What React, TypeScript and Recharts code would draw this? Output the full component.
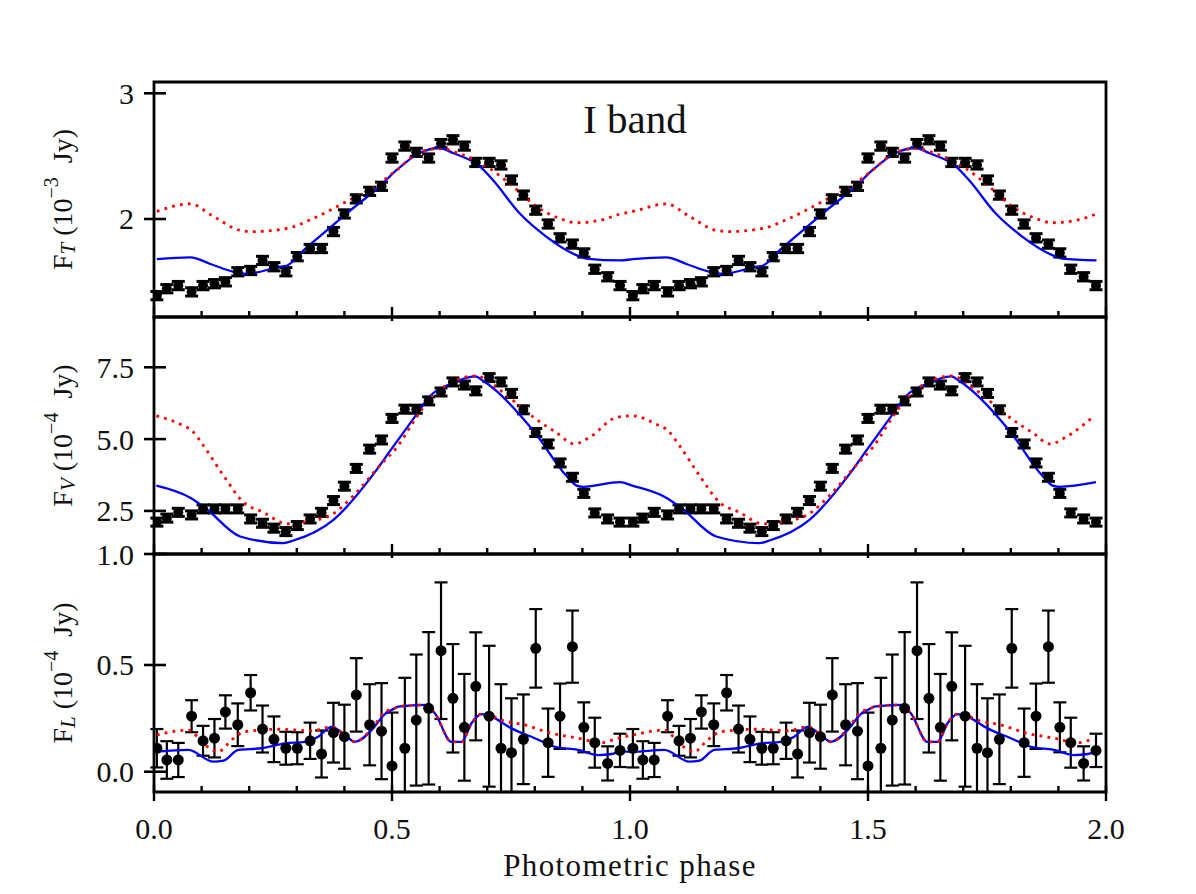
import React from "react";
import { ComposedChart, Line, Scatter, ErrorBar, XAxis, YAxis, ReferenceArea } from "recharts";

const W = 1196;
const H = 894;
const LEFT = 154;
const RIGHT = 1106;
const FONT = "'Liberation Serif', 'DejaVu Serif', serif";

// phases of the observed points (one cycle, repeated at +1)
const phases = [
  0.006, 0.027, 0.051, 0.079, 0.103, 0.127, 0.15, 0.176, 0.203, 0.228, 0.252, 0.277, 0.301, 0.328,
  0.352, 0.377, 0.4, 0.425, 0.453, 0.478, 0.5, 0.527, 0.551, 0.577, 0.603, 0.628, 0.652, 0.676,
  0.704, 0.729, 0.751, 0.776, 0.802, 0.828, 0.853, 0.879, 0.903, 0.926, 0.953, 0.979,
];

const fluxT = [
  1.39, 1.445, 1.47, 1.42, 1.47, 1.485, 1.5, 1.58, 1.59, 1.67, 1.62, 1.58, 1.7, 1.765, 1.765, 1.9,
  2.04, 2.16, 2.22, 2.26, 2.485, 2.58, 2.53, 2.485, 2.6, 2.63, 2.58, 2.45, 2.45, 2.43, 2.31, 2.19,
  2.07, 1.96, 1.85, 1.8, 1.73, 1.6, 1.54, 1.47,
];
const errT = 0.033;

const fluxV = [
  2.11, 2.25, 2.45, 2.36, 2.57, 2.57, 2.57, 2.57, 2.22, 2.07, 1.9, 1.78, 1.99, 2.22, 2.45, 2.86,
  3.36, 3.98, 4.65, 4.97, 5.72, 6.04, 6.04, 6.33, 6.64, 6.99, 6.88, 6.68, 7.14, 6.99, 6.59, 6.02,
  5.23, 4.83, 4.17, 3.67, 3.11, 2.43, 2.22, 2.11,
];
const errV = 0.14;

const fluxL = [
  0.11, 0.055, 0.055, 0.26, 0.145, 0.157, 0.28, 0.22, 0.37, 0.2, 0.152, 0.11, 0.11, 0.145, 0.083,
  0.183, 0.164, 0.36, 0.22, 0.19, 0.027, 0.11, 0.242, 0.297, 0.567, 0.344, 0.208, 0.4, 0.26, 0.11,
  0.089, 0.152, 0.578, 0.136, 0.26, 0.586, 0.208, 0.136, 0.039, 0.1,
];
const errL = [
  0.09, 0.088, 0.08, 0.075, 0.07, 0.09, 0.078, 0.1, 0.083, 0.11, 0.107, 0.077, 0.075, 0.085, 0.11,
  0.14, 0.15, 0.172, 0.19, 0.225, 0.25, 0.33, 0.307, 0.357, 0.32, 0.254, 0.25, 0.253, 0.33, 0.3,
  0.255, 0.21, 0.184, 0.16, 0.153, 0.169, 0.117, 0.117, 0.08, 0.078,
];

// model curves
const bluePhaseT = [0.006, 0.076, 0.12, 0.167, 0.195, 0.265, 0.28, 0.314, 0.36, 0.405, 0.474, 0.51, 0.558, 0.6, 0.628, 0.684, 0.712, 0.768, 0.824, 0.88, 0.908, 0.98];
const blueT = [1.68, 1.695, 1.64, 1.58, 1.565, 1.62, 1.63, 1.75, 1.9, 2.045, 2.26, 2.39, 2.525, 2.565, 2.525, 2.42, 2.31, 2.045, 1.86, 1.725, 1.685, 1.67];
const redPhaseT = [0.006, 0.076, 0.125, 0.181, 0.209, 0.279, 0.335, 0.405, 0.474, 0.51, 0.558, 0.6, 0.649, 0.698, 0.754, 0.803, 0.852, 0.887, 0.943, 0.98];
const redT = [2.06, 2.12, 2.02, 1.91, 1.9, 1.925, 2.005, 2.14, 2.285, 2.39, 2.53, 2.56, 2.51, 2.42, 2.26, 2.1, 2.005, 1.97, 1.995, 2.04];

const bluePhaseV = [0.005, 0.076, 0.108, 0.181, 0.272, 0.293, 0.377, 0.461, 0.496, 0.552, 0.58, 0.622, 0.675, 0.692, 0.8, 0.866, 0.888, 0.902, 0.979];
const blueV = [3.38, 2.96, 2.6, 1.61, 1.38, 1.47, 2.19, 3.78, 4.59, 5.87, 6.5, 6.91, 7.18, 7.02, 5.23, 3.73, 3.38, 3.34, 3.5];
const redPhaseV = [0.005, 0.055, 0.08, 0.104, 0.146, 0.188, 0.23, 0.279, 0.314, 0.37, 0.419, 0.474, 0.51, 0.551, 0.579, 0.628, 0.677, 0.719, 0.768, 0.803, 0.845, 0.883, 0.915, 0.971];
const redV = [5.81, 5.52, 5.29, 4.77, 3.73, 2.8, 2.45, 2.05, 2.11, 2.34, 3.03, 4.07, 4.71, 5.75, 6.39, 7.0, 7.2, 6.8, 6.16, 5.69, 5.23, 4.83, 5.06, 5.75];

const bluePhaseL = [0.006, 0.072, 0.125, 0.146, 0.177, 0.226, 0.275, 0.317, 0.345, 0.373, 0.401, 0.422, 0.457, 0.485, 0.506, 0.513, 0.569, 0.59, 0.625, 0.646, 0.667, 0.688, 0.709, 0.751, 0.8, 0.842, 0.891, 0.933, 0.962, 0.98];
const blueL = [0.094, 0.102, 0.047, 0.052, 0.102, 0.11, 0.133, 0.14, 0.164, 0.21, 0.172, 0.14, 0.195, 0.27, 0.297, 0.305, 0.313, 0.274, 0.14, 0.14, 0.227, 0.27, 0.258, 0.203, 0.157, 0.117, 0.102, 0.078, 0.083, 0.094];
const redPhaseL = [0.006, 0.072, 0.107, 0.135, 0.163, 0.191, 0.261, 0.331, 0.373, 0.401, 0.422, 0.457, 0.485, 0.506, 0.513, 0.569, 0.59, 0.625, 0.646, 0.667, 0.688, 0.709, 0.73, 0.779, 0.835, 0.891, 0.94, 0.975];
const redL = [0.172, 0.195, 0.125, 0.094, 0.149, 0.1875, 0.199, 0.192, 0.21, 0.172, 0.14, 0.2, 0.28, 0.297, 0.305, 0.313, 0.274, 0.14, 0.14, 0.227, 0.27, 0.262, 0.242, 0.219, 0.18, 0.157, 0.136, 0.157];

const xTicks = [0, 0.1, 0.2, 0.3, 0.4, 0.5, 0.6, 0.7, 0.8, 0.9, 1, 1.1, 1.2, 1.3, 1.4, 1.5, 1.6, 1.7, 1.8, 1.9, 2];
const xMajor = [0, 0.5, 1, 1.5, 2];
const xLabels = ["0.0", "0.5", "1.0", "1.5", "2.0"];

const yTicksT = [2, 3];
const yTicksV = [1, 2.5, 5, 7.5];
const yTicksL = [0, 0.5];

type Pt = { x: number; y: number; err?: [number, number] };

// two phase cycles; error bars are cut at the panel edges like the original plot
function twoCycles(xs: number[], ys: number[], errs?: number[] | number, dom?: [number, number]): Pt[] {
  const out: Pt[] = [];
  [0, 1].forEach((shift) => {
    xs.forEach((x, i) => {
      const p: Pt = { x: x + shift, y: ys[i] };
      if (errs !== undefined && dom) {
        const e = Array.isArray(errs) ? errs[i] : errs;
        p.err = [Math.min(e, ys[i] - dom[0]), Math.min(e, dom[1] - ys[i])];
      }
      out.push(p);
    });
  });
  return out;
}

const XTick = (props: any) => {
  const { x, y, payload, labels, majorIn, majorOut } = props;
  const v = payload.value;
  const mi = xMajor.findIndex((m) => Math.abs(m - v) < 1e-6);
  const major = mi >= 0;
  return (
    <g>
      <line x1={x} x2={x} y1={y - (major ? majorIn : 6)} y2={y + (major ? majorOut : 0)} stroke="#000" strokeWidth={2.4} />
      {labels && major && (
        <text x={x} y={y + 36} textAnchor="middle" dominantBaseline="central" fontFamily={FONT} fontSize={30} fill="#111">
          {xLabels[mi]}
        </text>
      )}
    </g>
  );
};

const YTick = (props: any) => {
  const { x, y, payload, fmt } = props;
  return (
    <g>
      <line x1={x - 10} x2={x + 12} y1={y} y2={y} stroke="#000" strokeWidth={2.6} />
      <text x={x - 20} y={y} textAnchor="end" dominantBaseline="central" fontFamily={FONT} fontSize={30} fill="#111">
        {fmt(payload.value)}
      </text>
    </g>
  );
};

const makeYLabel = (sub: string, exp: string) => (props: any) => {
  const vb = props.viewBox;
  const cx = LEFT - 92;
  const cy = vb.y + vb.height / 2;
  return (
    <text x={cx} y={cy} transform={`rotate(-90 ${cx} ${cy})`} textAnchor="middle" dominantBaseline="central" fontFamily={FONT} fontSize={28} fill="#111">
      F
      <tspan fontStyle="italic" fontSize={21} dy={6}>{sub}</tspan>
      <tspan dy={-6}>{"\u00a0(10"}</tspan>
      <tspan fontSize={20} dy={-11}>{"\u2212" + exp}</tspan>
      <tspan dy={11}>{"\u00a0\u00a0Jy)"}</tspan>
    </text>
  );
};

interface PanelProps {
  top: number;
  bottom: number;
  domain: [number, number];
  yTicks: number[];
  fmt: (v: number) => string;
  points: Pt[];
  blue: Pt[];
  red: Pt[];
  dotR: number;
  barWidth: number;
  cap: number;
  sub: string;
  exp: string;
  labels?: boolean;
  majorIn?: number;
  majorOut?: number;
}

function Panel({ top, bottom, domain, yTicks, fmt, points, blue, red, dotR, barWidth, cap, sub, exp, labels = false, majorIn = 10, majorOut = 4 }: PanelProps) {
  return (
    <div style={{ position: "absolute", left: 0, top: 0 }}>
      <ComposedChart width={W} height={H} margin={{ top, bottom: H - bottom - 1, left: LEFT - 1, right: W - RIGHT }}>
        <XAxis
          type="number"
          dataKey="x"
          domain={[0, 2]}
          ticks={xTicks}
          interval={0}
          allowDataOverflow
          height={1}
          tickSize={0}
          tickMargin={0}
          axisLine={false}
          tickLine={false}
          tick={(p: any) => <XTick {...p} labels={labels} majorIn={majorIn} majorOut={majorOut} />}
          label={
            labels
              ? () => (
                  <text x={(LEFT + RIGHT) / 2} y={bottom + 73} textAnchor="middle" dominantBaseline="central" fontFamily={FONT} fontSize={31} letterSpacing={1.4} fill="#111">
                    Photometric phase
                  </text>
                )
              : undefined
          }
        />
        <YAxis
          type="number"
          dataKey="y"
          domain={domain}
          ticks={yTicks}
          interval={0}
          allowDataOverflow
          width={1}
          tickSize={0}
          tickMargin={0}
          axisLine={false}
          tickLine={false}
          tick={(p: any) => <YTick {...p} fmt={fmt} />}
          label={makeYLabel(sub, exp)}
        />
        <Scatter
          data={points}
          dataKey="y"
          isAnimationActive={false}
          shape={(p: any) => <circle cx={p.cx} cy={p.cy} r={dotR} fill="#000" />}
        >
          <ErrorBar dataKey="err" direction="y" width={cap} strokeWidth={barWidth} stroke="#000" isAnimationActive={false} />
        </Scatter>
        <Line data={blue} dataKey="y" type="monotone" stroke="#0000ff" strokeWidth={2.3} dot={false} activeDot={false} isAnimationActive={false} />
        <Line data={red} dataKey="y" type="monotone" stroke="#ff0000" strokeWidth={2.8} strokeDasharray="2.8 5.2" dot={false} activeDot={false} isAnimationActive={false} />
        <ReferenceArea x1={0} x2={2} y1={domain[0]} y2={domain[1]} fill="none" stroke="#000" strokeWidth={2.8} ifOverflow="visible" />
      </ComposedChart>
    </div>
  );
}

const domT: [number, number] = [1.22, 3.09];
const domV: [number, number] = [1.0, 9.25];
const domL: [number, number] = [-0.095, 1.02];

export default function App() {
  return (
    <div style={{ position: "absolute", left: 0, top: 0, width: W, height: H, background: "#fff" }}>
      <Panel
        top={82}
        bottom={317}
        domain={domT}
        yTicks={yTicksT}
        fmt={(v) => String(v)}
        points={twoCycles(phases, fluxT, errT, domT)}
        blue={twoCycles(bluePhaseT, blueT)}
        red={twoCycles(redPhaseT, redT)}
        dotR={5}
        barWidth={3}
        cap={6.5}
        sub="T"
        exp="3"
      />
      <Panel
        top={317}
        bottom={554}
        domain={domV}
        yTicks={yTicksV}
        fmt={(v) => v.toFixed(1)}
        points={twoCycles(phases, fluxV, errV, domV)}
        blue={twoCycles(bluePhaseV, blueV)}
        red={twoCycles(redPhaseV, redV)}
        dotR={5}
        barWidth={3}
        cap={6.5}
        sub="V"
        exp="4"
      />
      <Panel
        top={554}
        bottom={792}
        domain={domL}
        yTicks={yTicksL}
        fmt={(v) => v.toFixed(1)}
        points={twoCycles(phases, fluxL, errL, domL)}
        blue={twoCycles(bluePhaseL, blueL)}
        red={twoCycles(redPhaseL, redL)}
        dotR={5.5}
        barWidth={2.2}
        cap={6.5}
        sub="L"
        exp="4"
        labels
        majorIn={7}
        majorOut={9}
      />
      <svg width={W} height={H} style={{ position: "absolute", left: 0, top: 0, pointerEvents: "none" }}>
        <text x={635} y={119} textAnchor="middle" dominantBaseline="central" fontFamily={FONT} fontSize={41} fill="#111">
          I band
        </text>
      </svg>
    </div>
  );
}
